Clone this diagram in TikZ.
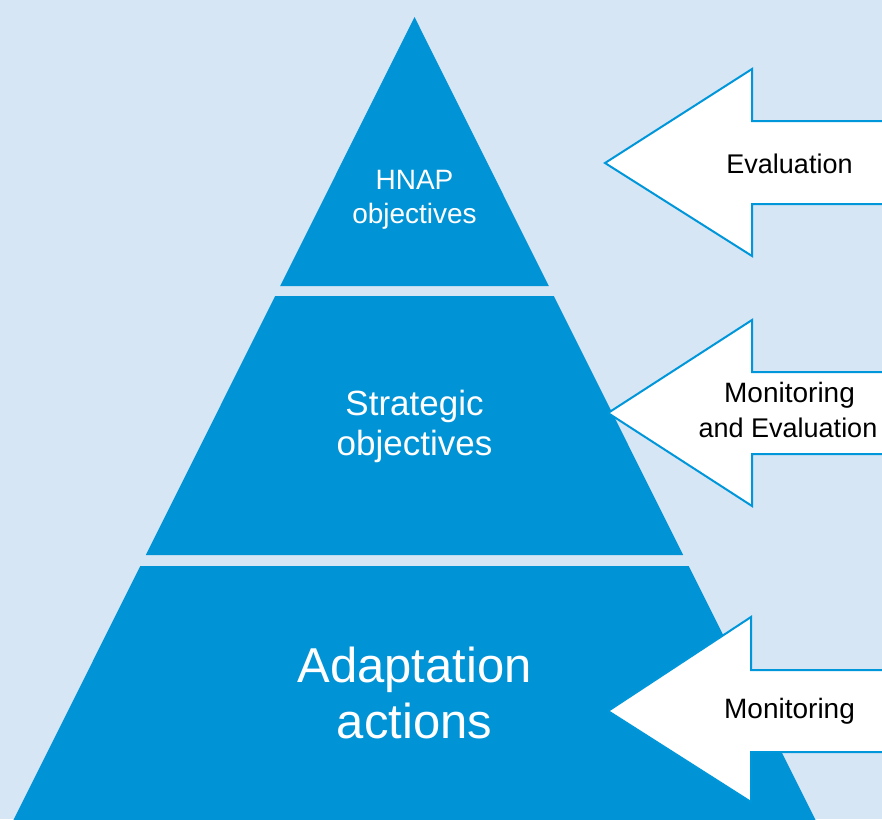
\documentclass[tikz,border=0pt]{standalone}
\usepackage{fontspec}
\setmainfont{Liberation Sans}
\definecolor{bgblue}{HTML}{D7E6F5}
\definecolor{pyrblue}{HTML}{0093D6}
\definecolor{arrblue}{HTML}{0096DA}
\tikzset{
  tier/.style={fill=pyrblue, draw=none},
  bigarrow/.style={fill=white, draw=arrblue, line width=2pt, line join=miter},
  tiertext/.style={text=white, anchor=base, inner sep=0pt},
  arrtext/.style={text=black, anchor=base, inner sep=0pt, font=\fontsize{27}{35}\selectfont},
}
\begin{document}
\begin{tikzpicture}[x=1pt,y=-1pt]
\fill[bgblue] (0,0) rectangle (882,819);
\useasboundingbox (0,0) rectangle (882,819);
\begin{scope}
\clip (0,0) rectangle (882,819);
% pyramid tiers
\path[tier] (414.5,17) -- (548.8,286) -- (280.2,286) -- cycle;
\path[tier] (275.2,296) -- (553.8,296) -- (683.2,555) -- (145.8,555) -- cycle;
\path[tier] (140.3,566) -- (688.7,566) -- (830,849) -- (-1,849) -- cycle;
% arrows
\draw[bigarrow] (605,163) -- (752,69) -- (752,121) -- (900,121) -- (900,204) -- (752,204) -- (752,256) -- cycle;
\draw[bigarrow] (608,413) -- (752,320) -- (752,372) -- (900,372) -- (900,454) -- (752,454) -- (752,506) -- cycle;
\draw[bigarrow] (608,711) -- (751,617) -- (751,670) -- (900,670) -- (900,752) -- (751,752) -- (751,802) -- cycle;
\end{scope}
% tier labels
\node[tiertext, font=\fontsize{28}{32}\selectfont] (t1a) at (414.5,189) {HNAP};
\node[tiertext, font=\fontsize{28}{32}\selectfont] (t1b) at (414.5,223) {objectives};
\node[tiertext, font=\fontsize{35}{40}\selectfont] (t2a) at (414.5,415) {Strategic};
\node[tiertext, font=\fontsize{35}{40}\selectfont] (t2b) at (414.5,455) {objectives};
\node[tiertext, font=\fontsize{49}{56}\selectfont] (t3a) at (414.5,682) {Adaptation};
\node[tiertext, font=\fontsize{49}{56}\selectfont] (t3b) at (414.5,738) {actions};
% arrow labels
\node[arrtext] (a1) at (789.5,173) {Evaluation};
\node[arrtext, font=\fontsize{28}{35}\selectfont] (a2a) at (789.5,402) {Monitoring};
\node[arrtext] (a2b) at (788,437) {and Evaluation};
\node[arrtext, font=\fontsize{28}{35}\selectfont] (a3) at (789.5,718) {Monitoring};
\end{tikzpicture}
\end{document}
